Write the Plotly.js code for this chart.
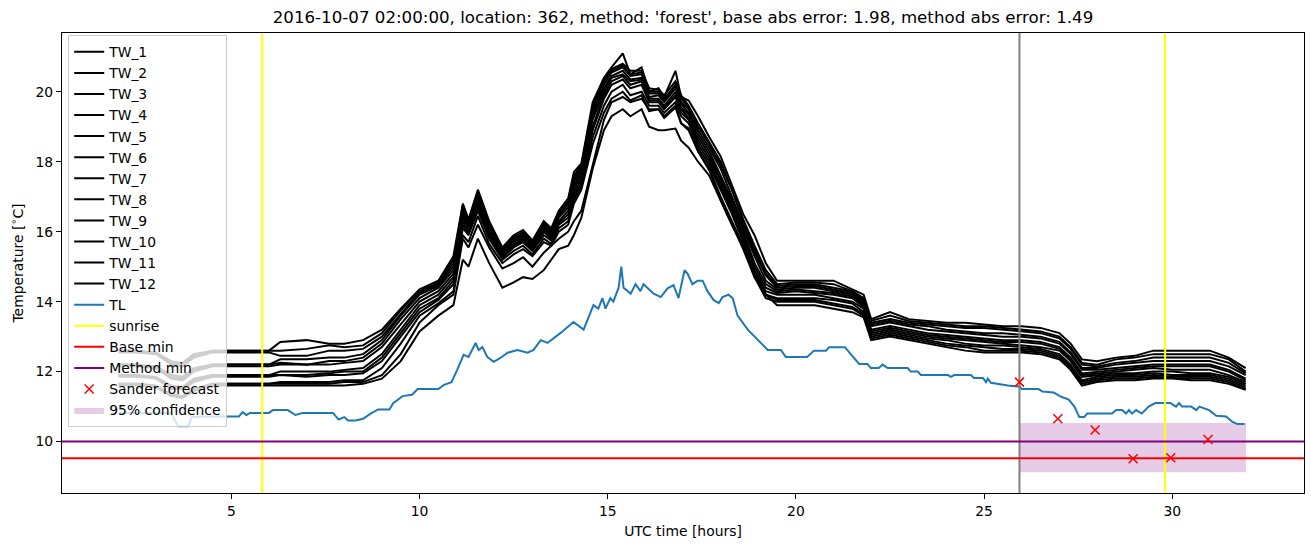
<!DOCTYPE html>
<html><head><meta charset="utf-8">
<script src="https://cdn.plot.ly/plotly-3.0.1.min.js"></script>
<style>html,body{margin:0;padding:0;background:#fff}#chart{width:1311px;height:547px}</style>
</head><body><div id="chart"></div>
<script>
// ---------- data ----------
const hours = [2.0,2.5,3.0,3.4,3.7,4.0,4.5,5.0,5.5,6.0,6.3,7.0,7.6,8.0,8.5,
 9.0,9.5,10.0,10.5,10.9,11.15,11.3,11.55,11.85,
 12.2,12.5,12.75,13.0,13.3,13.5,13.7,13.95,14.1,14.3,
 14.6,14.9,15.1,15.4,15.6,15.9,16.1,16.35,16.5,16.8,16.95,17.15,
 17.4,17.7,18.0,18.3,18.6,18.9,19.2,19.5,
 20.0,20.5,21.0,21.5,21.8,22.0,
 22.5,23.0,23.5,24.0,24.5,25.0,25.5,26.0,
 26.5,27.0,27.3,27.6,28.0,28.5,29.0,29.5,30.0,30.5,31.0,31.5,31.95];

const tw1 = [12.6,12.6,12.55,12.3,12.25,12.5,12.6,12.6,12.6,12.6,12.85,12.9,12.8,12.8,12.9,
 13.2,13.8,14.35,14.6,15.3,16.8,16.35,17.2,16.3,
 15.55,15.9,16.05,15.75,16.3,16.1,16.6,16.95,17.7,17.95,
 19.7,20.4,20.7,21.1,20.5,20.7,20.0,20.1,19.85,20.6,19.85,19.75,
 19.3,18.7,18.15,17.35,16.5,15.9,15.1,14.6,
 14.6,14.6,14.6,14.35,14.2,13.5,
 13.7,13.5,13.45,13.4,13.4,13.35,13.3,13.3,
 13.25,13.1,12.8,12.35,12.3,12.4,12.45,12.6,12.6,12.6,12.6,12.4,12.1];
const tw2 = [12.6,12.6,12.5,12.25,12.2,12.45,12.6,12.6,12.6,12.6,12.6,12.65,12.75,12.7,12.75,
 13.1,13.75,14.3,14.55,15.2,16.75,16.3,17.15,16.25,
 15.5,15.85,16.0,15.7,16.25,16.05,16.55,16.9,17.6,17.9,
 19.6,20.35,20.65,20.8,20.6,20.6,20.1,20.05,19.9,20.3,19.9,19.6,
 19.1,18.55,18.0,17.2,16.35,15.6,14.9,14.5,
 14.55,14.55,14.5,14.3,14.1,13.45,
 13.6,13.45,13.4,13.35,13.3,13.3,13.25,13.2,
 13.15,13.0,12.7,12.25,12.2,12.35,12.4,12.5,12.5,12.5,12.5,12.35,12.0];
const tw3 = [12.55,12.55,12.5,12.2,12.15,12.4,12.55,12.55,12.55,12.55,12.45,12.45,12.6,12.6,12.65,
 13.0,13.65,14.25,14.5,15.1,16.7,16.25,17.1,16.2,
 15.5,15.8,15.95,15.7,16.2,16.0,16.5,16.85,17.5,17.85,
 19.5,20.3,20.6,20.75,20.5,20.55,20.0,20.0,19.8,20.2,19.8,19.55,
 19.0,18.5,17.9,17.2,16.3,15.5,14.8,14.45,
 14.5,14.5,14.4,14.3,14.05,13.4,
 13.5,13.4,13.35,13.3,13.25,13.25,13.2,13.15,
 13.1,12.95,12.65,12.2,12.15,12.25,12.3,12.4,12.4,12.4,12.4,12.25,11.95];
const tw4 = [12.2,12.2,12.15,11.9,11.85,12.1,12.2,12.2,12.2,12.2,12.35,12.35,12.4,12.4,12.5,
 12.9,13.6,14.2,14.45,15.0,16.6,16.2,17.0,16.1,
 15.45,15.75,15.9,15.65,16.15,15.95,16.45,16.8,17.4,17.8,
 19.4,20.2,20.55,20.7,20.45,20.5,19.95,19.95,19.75,20.15,19.7,19.5,
 18.9,18.4,17.8,17.0,16.2,15.4,14.75,14.4,
 14.45,14.45,14.35,14.25,14.0,13.35,
 13.45,13.35,13.3,13.2,13.15,13.1,13.1,13.05,
 13.0,12.85,12.55,12.1,12.1,12.2,12.25,12.3,12.3,12.3,12.3,12.15,11.9];
const tw5 = [12.2,12.2,12.1,11.85,11.8,12.05,12.2,12.2,12.2,12.2,12.25,12.2,12.3,12.3,12.4,
 12.8,13.5,14.1,14.4,14.9,16.5,16.15,16.95,16.05,
 15.4,15.7,15.85,15.6,16.1,15.9,16.4,16.7,17.3,17.7,
 19.3,20.1,20.45,20.6,20.35,20.4,19.85,19.9,19.7,20.1,19.65,19.4,
 18.8,18.3,17.6,16.9,16.1,15.3,14.6,14.35,
 14.4,14.4,14.3,14.2,13.95,13.3,
 13.4,13.3,13.2,13.15,13.1,13.05,13.0,13.0,
 12.95,12.8,12.5,12.05,12.05,12.1,12.15,12.2,12.2,12.2,12.2,12.05,11.8];
const tw6 = [12.15,12.15,12.1,11.8,11.75,12.0,12.15,12.15,12.15,12.15,12.2,12.2,12.2,12.25,12.3,
 12.7,13.35,14.0,14.3,14.8,16.4,16.1,16.85,16.0,
 15.35,15.65,15.8,15.55,16.05,15.85,16.3,16.6,17.2,17.6,
 19.2,20.0,20.4,20.5,20.3,20.35,19.8,19.8,19.6,20.0,19.55,19.35,
 18.7,18.2,17.5,16.8,16.0,15.1,14.5,14.3,
 14.35,14.3,14.25,14.15,13.9,13.2,
 13.3,13.2,13.1,13.05,13.0,12.95,12.9,12.9,
 12.85,12.7,12.4,11.95,12.0,12.05,12.1,12.15,12.15,12.15,12.15,12.0,11.75];
const tw7 = [11.9,11.9,11.85,11.6,11.55,11.8,11.9,11.9,11.9,11.9,12.0,12.0,12.0,12.05,12.1,
 12.5,13.2,13.9,14.2,14.7,16.3,16.0,16.75,15.95,
 15.3,15.6,15.75,15.5,16.0,15.8,16.25,16.5,17.1,17.5,
 19.0,19.9,20.3,20.45,20.2,20.3,19.75,19.75,19.55,19.9,19.5,19.25,
 18.6,18.1,17.4,16.7,15.9,15.0,14.4,14.25,
 14.3,14.25,14.2,14.1,13.85,13.15,
 13.25,13.15,13.05,13.0,12.95,12.9,12.85,12.85,
 12.8,12.65,12.35,11.9,11.95,12.0,12.05,12.1,12.05,12.05,12.05,11.9,11.7];
const tw8 = [11.9,11.9,11.8,11.55,11.5,11.75,11.9,11.9,11.9,11.9,11.9,11.9,11.95,12.0,12.0,
 12.4,13.1,13.8,14.1,14.6,16.2,15.95,16.7,15.9,
 15.25,15.55,15.7,15.45,15.9,15.75,16.2,16.4,17.0,17.4,
 18.9,19.8,20.2,20.35,20.1,20.2,19.7,19.7,19.5,19.85,19.4,19.2,
 18.5,18.0,17.3,16.6,15.8,14.9,14.3,14.2,
 14.2,14.2,14.1,14.0,13.8,13.1,
 13.2,13.1,13.0,12.95,12.9,12.85,12.8,12.75,
 12.7,12.6,12.3,11.85,11.9,11.95,11.95,12.0,12.0,11.95,11.95,11.85,11.65];
const tw9 = [11.85,11.85,11.8,11.5,11.5,11.7,11.85,11.85,11.85,11.85,11.9,11.85,11.9,11.9,11.95,
 12.3,13.0,13.7,14.05,14.5,16.1,15.9,16.6,15.8,
 15.2,15.45,15.6,15.35,15.8,15.65,16.1,16.3,16.9,17.3,
 18.7,19.6,20.0,20.2,19.9,20.0,19.6,19.6,19.4,19.7,19.3,19.1,
 18.4,17.9,17.2,16.5,15.7,14.8,14.2,14.1,
 14.1,14.1,14.05,13.95,13.7,13.05,
 13.15,13.05,12.95,12.9,12.8,12.75,12.75,12.7,
 12.65,12.5,12.2,11.75,11.85,11.9,11.9,11.95,11.9,11.9,11.9,11.8,11.6];
const tw10 = [11.65,11.65,11.6,11.35,11.3,11.5,11.65,11.65,11.65,11.65,11.7,11.7,11.7,11.75,11.75,
 12.1,12.8,13.6,13.95,14.3,15.9,15.7,16.45,15.65,
 15.1,15.35,15.5,15.3,15.7,15.6,16.0,16.2,16.8,17.2,
 18.5,19.4,19.8,20.0,19.75,19.9,19.45,19.5,19.25,19.55,19.1,18.95,
 18.3,17.8,17.0,16.3,15.6,14.7,14.2,14.05,
 14.05,14.05,13.95,13.85,13.65,13.0,
 13.1,13.0,12.9,12.8,12.75,12.7,12.65,12.65,
 12.6,12.45,12.15,11.7,11.8,11.85,11.85,11.9,11.85,11.85,11.85,11.75,11.55];
const tw11 = [11.65,11.65,11.6,11.3,11.3,11.5,11.65,11.65,11.65,11.65,11.65,11.65,11.65,11.7,11.7,
 11.9,12.5,13.4,13.9,14.2,15.8,15.55,16.2,15.55,
 14.95,15.1,15.27,15.0,15.4,15.6,15.8,16.0,16.3,16.6,
 17.9,19.2,19.7,19.85,19.7,19.8,19.5,19.5,19.3,19.6,19.1,18.9,
 18.3,17.75,16.9,16.2,15.5,14.7,14.1,14.0,
 14.0,14.0,13.9,13.8,13.6,12.95,
 13.05,12.95,12.85,12.75,12.7,12.6,12.6,12.6,
 12.55,12.4,12.1,11.65,11.75,11.8,11.8,11.85,11.82,11.8,11.8,11.7,11.5];
const tw12 = [11.6,11.6,11.55,11.3,11.25,11.45,11.6,11.6,11.6,11.6,11.6,11.6,11.6,11.6,11.65,
 11.8,12.3,13.15,13.6,13.9,15.2,15.0,15.8,15.1,
 14.4,14.55,14.7,14.65,14.9,15.2,15.5,15.6,15.9,16.4,
 17.8,18.9,19.3,19.5,19.3,19.5,19.0,18.9,18.9,18.95,18.6,18.4,
 18.0,17.6,16.9,16.2,15.6,14.8,14.2,13.9,
 13.9,13.9,13.8,13.7,13.55,12.9,
 13.0,12.9,12.8,12.7,12.6,12.55,12.55,12.55,
 12.5,12.35,12.05,11.6,11.7,11.75,11.75,11.8,11.8,11.75,11.75,11.65,11.48];

const tlHours = [2.0,2.5,3.0,3.4,3.5,3.6,3.85,3.95,4.3,4.8,5.2,5.3,5.4,5.5,6.0,6.1,6.5,6.7,6.9,7.7,7.85,8.0,8.1,8.3,8.5,8.7,8.9,9.2,9.3,9.55,9.8,9.95,
 10.5,10.65,10.85,11.0,11.17,11.3,11.49,11.57,11.67,11.8,11.97,12.15,12.34,12.6,12.87,13.03,13.22,13.4,13.74,14.09,14.36,14.62,14.75,14.86,14.94,
 15.07,15.15,15.29,15.36,15.42,15.61,15.74,15.87,15.95,16.22,16.41,16.59,16.75,16.88,17.04,17.12,17.25,17.39,17.52,17.65,17.81,17.95,18.05,18.21,18.32,
 18.45,18.72,18.99,19.25,19.6,19.73,20.3,20.48,20.8,20.88,21.3,21.68,21.9,21.99,22.2,22.3,22.44,22.97,23.05,23.24,23.32,24.04,24.12,24.2,24.65,24.73,
 24.97,25.05,25.1,25.18,25.63,25.95,26.0,26.45,26.55,26.85,27.05,27.25,27.4,27.53,27.66,27.74,28.4,28.51,28.67,28.77,28.85,28.93,29.04,29.19,29.37,29.55,
 29.95,30.1,30.18,30.26,30.5,30.64,30.72,30.98,31.17,31.43,31.59,31.73,31.92];
const tlTemp = [10.82,10.82,10.82,10.82,10.6,10.44,10.44,10.7,10.72,10.72,10.72,10.84,10.76,10.82,10.82,10.9,10.9,10.76,10.82,10.82,10.63,10.7,10.6,10.6,10.65,10.8,10.92,10.92,11.1,11.3,11.34,11.5,
 11.5,11.62,11.7,12.05,12.48,12.42,12.82,12.62,12.7,12.42,12.28,12.39,12.54,12.62,12.54,12.62,12.9,12.82,13.1,13.42,13.2,13.9,13.8,14.1,13.8,
 14.1,14.0,14.4,15.0,14.4,14.23,14.5,14.3,14.5,14.23,14.13,14.38,14.47,14.1,14.9,14.8,14.5,14.6,14.6,14.3,14.05,13.96,14.13,14.2,14.1,
 13.6,13.2,12.9,12.62,12.62,12.42,12.42,12.6,12.6,12.7,12.7,12.22,12.22,12.1,12.1,12.2,12.1,12.1,12.0,12.0,11.9,11.9,11.85,11.9,11.9,11.82,
 11.82,11.7,11.8,11.68,11.6,11.57,11.5,11.5,11.43,11.4,11.28,11.2,11.0,10.7,10.7,10.8,10.8,10.9,10.9,10.8,10.9,10.8,10.9,10.8,11.0,11.1,
 11.1,11.0,11.1,11.0,11.0,10.9,11.0,10.9,10.74,10.72,10.57,10.5,10.5];

const sunriseHours = [5.82, 29.81];
const forecastHour = 25.94;
const baseMin = 9.52;
const methodMin = 10.0;
const sanderHours = [25.94, 26.96, 27.95, 28.96, 29.96, 30.95];
const sanderTemp = [11.7, 10.65, 10.33, 9.51, 9.54, 10.06];
const confHours = [25.94, 31.96];
const confLow = 9.125;
const confHigh = 10.53;
const twNames = ['TW_1','TW_2','TW_3','TW_4','TW_5','TW_6','TW_7','TW_8','TW_9','TW_10','TW_11','TW_12'];
const twSeries = [tw1,tw2,tw3,tw4,tw5,tw6,tw7,tw8,tw9,tw10,tw11,tw12];
const xTicks = [5, 10, 15, 20, 25, 30];
const yTicks = [10, 12, 14, 16, 18, 20];

// ---------- traces ----------
const FONT = 'DejaVu Sans, Liberation Sans, sans-serif';
const traces = [];
traces.push({
  x: [confHours[0], confHours[1], confHours[1], confHours[0], confHours[0]],
  y: [confLow, confLow, confHigh, confHigh, confLow],
  mode: 'lines', fill: 'toself', fillcolor: 'rgba(128,0,128,0.2)',
  line: {width: 0, color: 'rgba(128,0,128,0.2)'}, name: '95% confidence', legendrank: 18,
  hoverinfo: 'skip'
});
twSeries.forEach((s, i) => {
  traces.push({x: hours, y: s, mode: 'lines', name: twNames[i],
    line: {color: 'black', width: 2}, legendrank: i + 1});
});
traces.push({x: tlHours, y: tlTemp, mode: 'lines', name: 'TL',
  line: {color: '#1f77b4', width: 2}, legendrank: 13});
traces.push({x: [sunriseHours[0], sunriseHours[0], null, sunriseHours[1], sunriseHours[1]],
  y: [0, 40, null, 0, 40], mode: 'lines', name: 'sunrise',
  line: {color: '#ffff00', width: 2}, legendrank: 14});
traces.push({x: [forecastHour, forecastHour], y: [0, 40], mode: 'lines',
  line: {color: '#808080', width: 2}, showlegend: false});
traces.push({x: [-10, 50], y: [baseMin, baseMin], mode: 'lines', name: 'Base min',
  line: {color: '#ff0000', width: 2}, legendrank: 15});
traces.push({x: [-10, 50], y: [methodMin, methodMin], mode: 'lines', name: 'Method min',
  line: {color: '#800080', width: 2}, legendrank: 16});
traces.push({x: sanderHours, y: sanderTemp, mode: 'markers', name: 'Sander forecast',
  marker: {symbol: 'x-thin', size: 9, color: '#ff0000', line: {color: '#ff0000', width: 1.5}},
  legendrank: 17});

const layout = {
  width: 1311, height: 547,
  margin: {l: 62, r: 7, t: 33, b: 54},
  paper_bgcolor: '#ffffff', plot_bgcolor: '#ffffff',
  font: {family: FONT, size: 13.9, color: '#000'},
  title: {text: "2016-10-07 02:00:00, location: 362, method: 'forest', base abs error: 1.98, method abs error: 1.49",
    font: {family: FONT, size: 16.67, color: '#000'}, x: 0.5, xref: 'paper', xanchor: 'center',
    y: 1 - 17 / 547, yref: 'container', yanchor: 'middle'},
  xaxis: {range: [0.5, 33.5], tickvals: xTicks, ticktext: xTicks.map(String),
    showline: true, mirror: true, linecolor: '#000', linewidth: 1,
    ticks: 'outside', ticklen: 5, tickwidth: 1, tickcolor: '#000',
    showgrid: false, zeroline: false,
    title: {text: 'UTC time [hours]', font: {family: FONT, size: 13.9, color: '#000'}, standoff: 8}},
  yaxis: {range: [8.53, 21.68], tickvals: yTicks, ticktext: yTicks.map(String),
    showline: true, mirror: true, linecolor: '#000', linewidth: 1,
    ticks: 'outside', ticklen: 5, tickwidth: 1, tickcolor: '#000',
    showgrid: false, zeroline: false,
    title: {text: 'Temperature [<sup>∘</sup>C]', font: {family: FONT, size: 13.9, color: '#000'}, standoff: 8}},
  legend: {x: 0.005, y: 0.995, xanchor: 'left', yanchor: 'top',
    bgcolor: 'rgba(255,255,255,0.8)', bordercolor: '#cccccc', borderwidth: 1,
    font: {family: FONT, size: 13.9, color: '#000'}, tracegroupgap: 0, itemwidth: 30},
  showlegend: true
};
Plotly.newPlot('chart', traces, layout, {staticPlot: true, displayModeBar: false});
</script>
</body></html>
